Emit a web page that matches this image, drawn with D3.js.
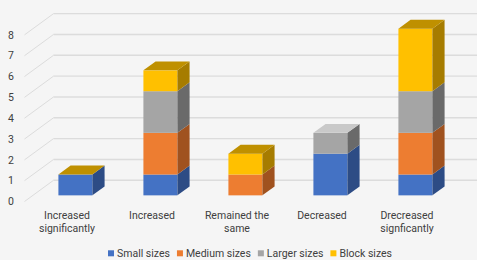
<!DOCTYPE html>
<html>
<head>
<meta charset="utf-8">
<script src="https://cdn.jsdelivr.net/npm/d3@7"></script>
<style>
  html, body { margin: 0; padding: 0; background: #f5f5f5; }
  svg { display: block; }
  text { font-family: Roboto, "Liberation Sans", Arial, sans-serif; fill: #404040; }
</style>
</head>
<body>
<svg id="chart" width="477" height="260"></svg>
<script>
// ---- Data ----
const categories = ["Increased significantly", "Increased", "Remained the same", "Decreased", "Drecreased signficantly"];
const categoryLines = [["Increased", "significantly"], ["Increased"], ["Remained the", "same"], ["Decreased"], ["Drecreased", "signficantly"]];
const seriesNames = ["Small sizes", "Medium sizes", "Larger sizes", "Block sizes"];
const smallSizes  = [1, 1, 0, 2, 1];
const mediumSizes = [0, 2, 1, 0, 2];
const largerSizes = [0, 2, 0, 1, 2];
const blockSizes  = [0, 1, 1, null, 3];
const yTicks = [0, 1, 2, 3, 4, 5, 6, 7, 8];

// ---- Styles ----
const frontColors = ["#4472c4", "#ed7d31", "#a5a5a5", "#ffc000"];
const sideColors  = ["#2d4c85", "#a0521f", "#6a6a6a", "#a67c00"];
const topColors   = ["#3b64b0", "#c86a29", "#c9c9c9", "#bf9000"];

const seriesValues = [smallSizes, mediumSizes, largerSizes, blockSizes];

const svg = d3.select("#chart");
const W = 477, H = 260;

// ---- 3D geometry ----
const floorY = 201.5;               // front edge of floor, value 0
const depth = [29, -21.2];          // front -> back wall
const f1 = 0.29, f2 = 0.71;         // bar front / back depth fractions
const x = d3.scaleBand().domain(categories).range([24.5, 449.5]);
const y = d3.scaleLinear().domain([0, 8]).range([0, 8 * 20.83]); // height in px
const barW = 34;

function proj(px, v, f) {
  return [px + depth[0] * f, floorY - y(v) + depth[1] * f];
}

// ---- Gridlines ----
const g = svg.append("g");
yTicks.forEach(t => {
  const a = proj(x.range()[0], t, 0);
  const b = proj(x.range()[0], t, 1);
  g.append("line").attr("x1", a[0]).attr("y1", a[1]).attr("x2", b[0]).attr("y2", b[1])
    .attr("stroke", "#dcdcdc").attr("stroke-width", 1);
  g.append("line").attr("x1", b[0]).attr("y1", b[1]).attr("x2", W).attr("y2", b[1])
    .attr("stroke", "#dcdcdc").attr("stroke-width", 1.4);
  g.append("text").attr("x", 11).attr("y", a[1]).attr("dy", "0.35em")
    .attr("text-anchor", "middle").attr("font-size", "10.5px").text(t);
});

// ---- Bars ----
const bars = svg.append("g");
categories.forEach((c, i) => {
  const cx = x(c) + x.bandwidth() / 2;
  const left = cx - barW / 2, right = cx + barW / 2;
  let base = 0;
  let topIdx = -1;
  seriesValues.forEach((vals, s) => { if (vals[i] !== null) topIdx = s; });
  seriesValues.forEach((vals, s) => {
    const v = vals[i];
    if (v === null) return;
    const top = base + v;
    if (v > 0) {
      const p1 = proj(left, base, f1), p2 = proj(right, top, f1);
      bars.append("rect").attr("x", p1[0]).attr("y", p2[1])
        .attr("width", p2[0] - p1[0]).attr("height", p1[1] - p2[1])
        .attr("fill", frontColors[s]);
      const s1 = proj(right, base, f1), s2 = proj(right, base, f2),
            s3 = proj(right, top, f2), s4 = proj(right, top, f1);
      bars.append("polygon").attr("points", [s1, s2, s3, s4].map(p => p.join(",")).join(" "))
        .attr("fill", sideColors[s]);
    }
    if (s === topIdx) {
      const t1 = proj(left, top, f1), t2 = proj(right, top, f1),
            t3 = proj(right, top, f2), t4 = proj(left, top, f2);
      bars.append("polygon").attr("points", [t1, t2, t3, t4].map(p => p.join(",")).join(" "))
        .attr("fill", topColors[s]);
    }
    base = top;
  });
});

// ---- Category labels ----
categories.forEach((c, i) => {
  const cx = x(c) + x.bandwidth() / 2;
  const t = svg.append("text").attr("text-anchor", "middle").attr("font-size", "10.5px");
  categoryLines[i].forEach((ln, k) => {
    t.append("tspan").attr("x", cx).attr("y", 219 + k * 13).text(ln);
  });
});

// ---- Legend ----
const leg = svg.append("g");
let lx = 0;
const items = [];
seriesNames.forEach((n, s) => {
  const it = leg.append("g");
  it.append("rect").attr("x", 0).attr("y", -3).attr("width", 6).attr("height", 6).attr("fill", frontColors[s]);
  const tx = it.append("text").attr("x", 9).attr("y", 0).attr("dy", "0.35em").attr("font-size", "10.5px").text(n);
  const w = 9 + tx.node().getComputedTextLength();
  items.push({ it, x: lx });
  lx += w + 7;
});
const total = lx - 7;
const startX = 250 - total / 2;
items.forEach(o => o.it.attr("transform", `translate(${startX + o.x},253.3)`));
</script>
</body>
</html>
